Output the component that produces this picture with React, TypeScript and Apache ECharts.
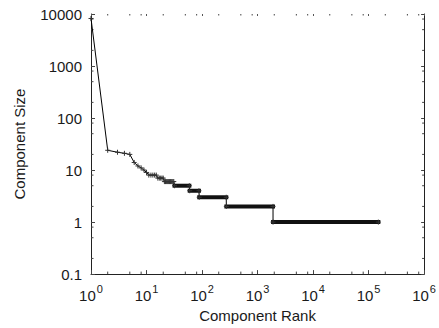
import React, { useEffect, useRef } from "react";
import * as echarts from "echarts";

// Individually visible points (rank -> component size)
const headRanks = [
  1, 2, 3, 4, 5, 6, 7, 8, 9, 10, 11, 12, 13, 14, 15, 16, 17, 18, 19, 20, 21, 22,
  23, 24, 25, 26, 27, 28, 29, 30, 31,
];
const headSizes = [
  8200, 24, 22, 21, 20, 14, 12, 11, 10, 9, 8, 8, 8, 8, 8, 7, 7, 7, 7, 7, 6, 6, 6,
  6, 6, 6, 6, 6, 6, 6, 6,
];

// Runs of equal size (dense markers form a solid band)
const runSizes = [5, 4, 3, 2, 1];
const runStart = [32, 60, 89, 274, 1901];
const runEnd = [59, 88, 273, 1900, 150000];

// Tick values
const xMajorTicks = [1, 10, 100, 1000, 10000, 100000, 1000000];
const yTickLabels = ["0.1", "1", "10", "100", "1000", "10000"];
const xMinorTicks = [
  2, 5, 8, 20, 50, 80, 200, 500, 800, 2000, 5000, 8000, 20000, 50000, 80000,
  200000, 500000, 800000,
];
const yMinorTicks = [
  0.2, 0.5, 0.8, 2, 5, 8, 20, 50, 80, 200, 500, 800, 2000, 5000, 8000,
];

const TEXT = "#1a1a1a";
const FONT = "Liberation Sans";

export default function App() {
  const ref = useRef<HTMLDivElement>(null);

  useEffect(() => {
    if (!ref.current) return;
    const chart = echarts.init(ref.current, null, { renderer: "svg" });

    const headPoints = headRanks.map((r, i) => [r, headSizes[i]]);
    const linePoints: number[][] = [...headPoints];
    runSizes.forEach((s, i) => {
      linePoints.push([runStart[i], s]);
      linePoints.push([runEnd[i], s]);
    });
    const markerPoints: number[][] = [...headPoints];
    runSizes.forEach((s, i) => {
      markerPoints.push([runStart[i], s]);
      markerPoints.push([runEnd[i], s]);
    });
    const bands = runSizes.map((s, i) => [runStart[i], runEnd[i], s]);

    const tickStyle = { stroke: "#444", lineWidth: 1 };

    chart.setOption({
      animation: false,
      backgroundColor: "#fff",
      grid: { left: 91, right: 10, top: 14, bottom: 52, containLabel: false },
      xAxis: [
        {
          type: "log",
          logBase: 10,
          min: 1,
          max: 1000000,
          name: "Component Rank",
          nameLocation: "middle",
          nameGap: 33,
          nameTextStyle: { fontFamily: FONT, fontSize: 15, color: TEXT },
          axisLine: { show: true, lineStyle: { color: "#222", width: 1 } },
          axisTick: { show: true, inside: true, length: 4, lineStyle: { color: "#444" } },
          splitLine: { show: false },
          axisLabel: {
            margin: 9,
            formatter: (v: number) => {
              const n = Math.round(Math.log10(v));
              if (!xMajorTicks.includes(Math.pow(10, n))) return "";
              return `{a|10}{b|${n}}`;
            },
            rich: {
              a: { fontFamily: FONT, fontSize: 15, color: TEXT, lineHeight: 20, verticalAlign: "bottom" },
              b: { fontFamily: FONT, fontSize: 11, color: TEXT, lineHeight: 20, verticalAlign: "top", padding: [0, 0, 6, 1] },
            },
          },
        },
        {
          type: "log",
          logBase: 10,
          min: 1,
          max: 1000000,
          position: "top",
          axisLine: { show: false },
          axisTick: { show: true, inside: true, length: 2, lineStyle: { color: "#555" } },
          axisLabel: { show: false },
          splitLine: { show: false },
        },
      ],
      yAxis: [
        {
          type: "log",
          logBase: 10,
          min: 0.1,
          max: 10000,
          name: "Component Size",
          nameLocation: "middle",
          nameGap: 64,
          nameTextStyle: { fontFamily: FONT, fontSize: 15, color: TEXT },
          axisLine: { show: true, lineStyle: { color: "#222", width: 1 } },
          axisTick: { show: true, inside: true, length: 4, lineStyle: { color: "#444" } },
          splitLine: { show: false },
          axisLabel: {
            margin: 9,
            fontFamily: FONT,
            fontSize: 15,
            color: TEXT,
            formatter: (v: number) => {
              const n = Math.round(Math.log10(v));
              return yTickLabels[n + 1] ?? "";
            },
          },
        },
        {
          type: "log",
          logBase: 10,
          min: 0.1,
          max: 10000,
          position: "right",
          axisLine: { show: true, lineStyle: { color: "#222", width: 1 } },
          axisTick: { show: true, inside: true, length: 3, lineStyle: { color: "#444" } },
          axisLabel: { show: false },
          splitLine: { show: false },
        },
      ],
      series: [
        {
          type: "line",
          data: linePoints,
          symbol: "none",
          lineStyle: { color: "#000", width: 1 },
          silent: true,
          z: 3,
        },
        {
          type: "custom",
          data: bands,
          encode: { x: [0, 1], y: 2 },
          silent: true,
          z: 4,
          renderItem: (params: any, api: any) => {
            const p1 = api.coord([api.value(0), api.value(2)]);
            const p2 = api.coord([api.value(1), api.value(2)]);
            return {
              type: "rect",
              shape: { x: p1[0] - 2, y: p1[1] - 2, width: p2[0] - p1[0] + 4, height: 4 },
              style: { fill: "#111" },
            };
          },
        },
        {
          type: "custom",
          data: markerPoints,
          encode: { x: 0, y: 1 },
          silent: true,
          z: 5,
          renderItem: (params: any, api: any) => {
            const p = api.coord([api.value(0), api.value(1)]);
            const a = 2.5;
            return {
              type: "group",
              children: [
                { type: "line", shape: { x1: p[0] - a, y1: p[1], x2: p[0] + a, y2: p[1] }, style: { stroke: "#333", lineWidth: 1 } },
                { type: "line", shape: { x1: p[0], y1: p[1] - a, x2: p[0], y2: p[1] + a }, style: { stroke: "#333", lineWidth: 1 } },
              ],
            };
          },
        },
        {
          type: "custom",
          data: xMinorTicks.map((v) => [v, 1]),
          encode: { x: 0, y: 1 },
          silent: true,
          clip: false,
          z: 2,
          renderItem: (params: any, api: any) => {
            const cs = params.coordSys;
            const p = api.coord([api.value(0), 1]);
            const b = cs.y + cs.height;
            return {
              type: "group",
              children: [
                { type: "line", shape: { x1: p[0], y1: b, x2: p[0], y2: b - 2.5 }, style: tickStyle },
                { type: "line", shape: { x1: p[0], y1: cs.y, x2: p[0], y2: cs.y + 1.5 }, style: tickStyle },
              ],
            };
          },
        },
        {
          type: "custom",
          data: yMinorTicks.map((v) => [1, v]),
          encode: { x: 0, y: 1 },
          silent: true,
          clip: false,
          z: 2,
          renderItem: (params: any, api: any) => {
            const cs = params.coordSys;
            const p = api.coord([1, api.value(1)]);
            const r = cs.x + cs.width;
            return {
              type: "group",
              children: [
                { type: "line", shape: { x1: cs.x, y1: p[1], x2: cs.x + 2.5, y2: p[1] }, style: tickStyle },
                { type: "line", shape: { x1: r, y1: p[1], x2: r - 2, y2: p[1] }, style: tickStyle },
              ],
            };
          },
        },
      ],
    });

    return () => chart.dispose();
  }, []);

  return (
    <div
      ref={ref}
      style={{ position: "fixed", left: 0, top: 0, width: 439, height: 328, background: "#fff" }}
    />
  );
}
